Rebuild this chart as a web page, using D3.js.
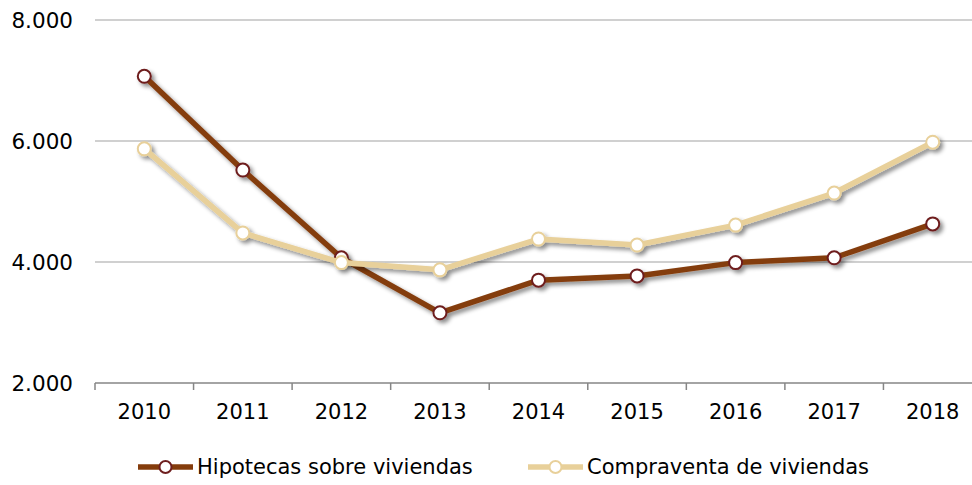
<!DOCTYPE html>
<html>
<head>
<meta charset="utf-8">
<script src="https://cdn.jsdelivr.net/npm/d3@7"></script>
<style>
  body { margin: 0; background: #fff; }
  svg { font-family: "DejaVu Sans", Verdana, sans-serif; }
</style>
</head>
<body>
<svg id="chart" width="972" height="485"></svg>
<script>
// data
const years = ['2010', '2011', '2012', '2013', '2014', '2015', '2016', '2017', '2018']
const hipotecas = [7070, 5520, 4070, 3160, 3700, 3770, 3990, 4070, 4630]
const compraventa = [5870, 4480, 3990, 3870, 4380, 4280, 4610, 5140, 5980]
const yTicks = [2000, 4000, 6000, 8000]
const seriesNames = ['Hipotecas sobre viviendas', 'Compraventa de viviendas']

const width = 972, height = 485
const margin = { left: 95, right: -10, top: 20, bottom: 102 }

const svg = d3.select('#chart')

// drop shadow
const defs = svg.append('defs')
const f = defs.append('filter').attr('id', 'shadow')
  .attr('x', '-20%').attr('y', '-20%').attr('width', '140%').attr('height', '140%')
f.append('feDropShadow').attr('dx', 3).attr('dy', 3).attr('stdDeviation', 2)
  .attr('flood-color', '#000').attr('flood-opacity', 0.45)

const x = d3.scaleBand().domain(years).range([margin.left, width - margin.right])
const y = d3.scaleLinear().domain([2000, 8000]).range([height - margin.bottom, margin.top])

// grid
svg.append('g').selectAll('line').data(yTicks.slice(1)).enter().append('line')
  .attr('x1', margin.left).attr('x2', width)
  .attr('y1', d => y(d)).attr('y2', d => y(d))
  .attr('stroke', '#c0c0c0').attr('stroke-width', 1.5)

// y labels
svg.append('g').selectAll('text').data(yTicks).enter().append('text')
  .attr('x', 73).attr('y', d => y(d)).attr('dy', '0.35em')
  .attr('text-anchor', 'end').attr('font-size', 21.5).attr('fill', '#000')
  .text(d => d3.format(',')(d).replace(',', '.'))

// x axis
const xAxis = svg.append('g').attr('transform', 'translate(0,' + y(2000) + ')')
xAxis.append('line').attr('x1', margin.left).attr('x2', width)
  .attr('stroke', '#868686').attr('stroke-width', 1.5)
xAxis.selectAll('.tick').data(years.concat(['end'])).enter().append('line')
  .attr('x1', (d, i) => margin.left + i * x.step()).attr('x2', (d, i) => margin.left + i * x.step())
  .attr('y1', 0).attr('y2', 7).attr('stroke', '#868686').attr('stroke-width', 1.5)
xAxis.selectAll('text').data(years).enter().append('text')
  .attr('x', d => x(d) + x.bandwidth() / 2).attr('y', 36)
  .attr('text-anchor', 'middle').attr('font-size', 21).attr('fill', '#000')
  .text(d => d)

const series = [
  { name: seriesNames[0], values: hipotecas, line: '#843c0c', marker: '#6e1f1f' },
  { name: seriesNames[1], values: compraventa, line: '#e8d09a', marker: '#e8d09a' }
]

const line = d3.line().x((d, i) => x(years[i]) + x.bandwidth() / 2).y(d => y(d))

// hipotecas first, compraventa drawn on top
series.forEach(s => {
  const g = svg.append('g').attr('filter', 'url(#shadow)')
  g.append('path').datum(s.values).attr('d', line)
    .attr('fill', 'none').attr('stroke', s.line).attr('stroke-width', 5.5)
    .attr('stroke-linejoin', 'round')
  g.selectAll('circle').data(s.values).enter().append('circle')
    .attr('cx', (d, i) => x(years[i]) + x.bandwidth() / 2).attr('cy', d => y(d))
    .attr('r', 6.5).attr('fill', '#fff').attr('stroke', s.marker).attr('stroke-width', 2)
})

// legend
const legendPos = [138, 528]
series.forEach((s, i) => {
  const lg = svg.append('g').attr('transform', 'translate(' + legendPos[i] + ',467)')
  lg.append('line').attr('x1', 0).attr('x2', 55).attr('stroke', s.line).attr('stroke-width', 5.5)
  lg.append('circle').attr('cx', 27.5).attr('cy', 0).attr('r', 6)
    .attr('fill', '#fff').attr('stroke', s.marker).attr('stroke-width', 2)
  lg.append('text').attr('x', 59).attr('dy', '0.35em').attr('font-size', 21).attr('fill', '#000')
    .text(s.name)
})
</script>
</body>
</html>
